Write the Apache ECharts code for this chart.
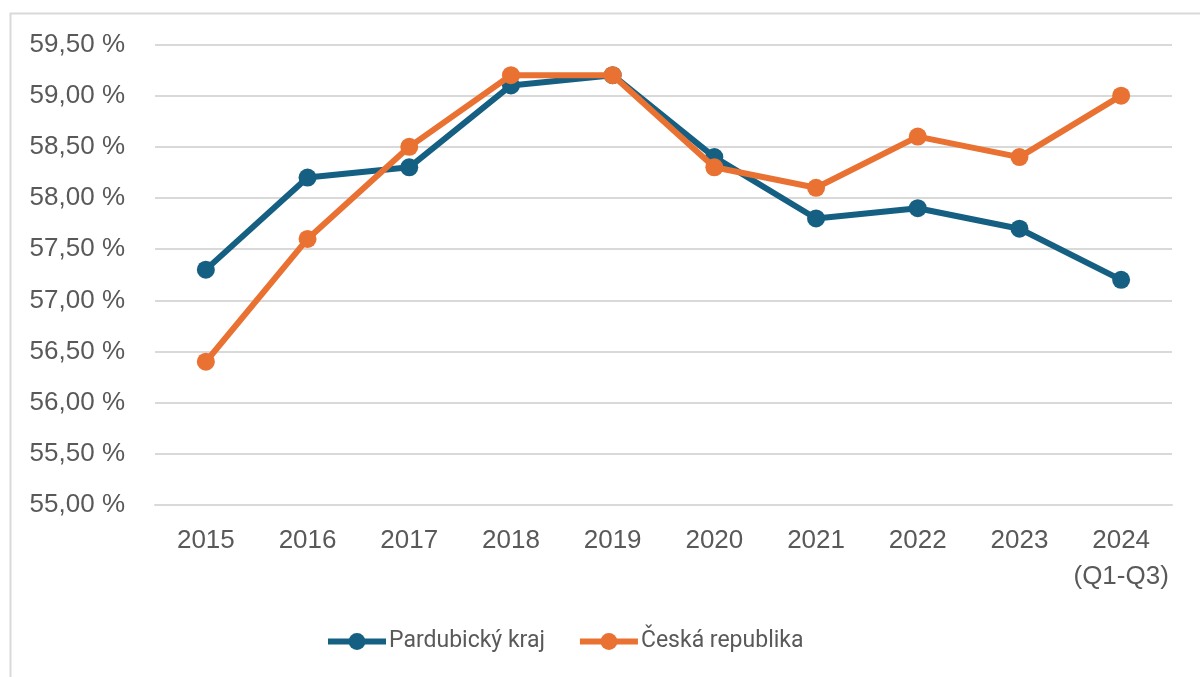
<!DOCTYPE html>
<html>
<head>
<meta charset="utf-8">
<script src="https://cdn.jsdelivr.net/npm/echarts@6/dist/echarts.min.js"></script>
<style>
html,body{margin:0;padding:0;background:#fff;}
#chart{width:1200px;height:677px;}
</style>
</head>
<body>
<div id="chart"></div>
<script>
const categories = ['2015','2016','2017','2018','2019','2020','2021','2022','2023','2024\n(Q1-Q3)'];
const pardubickyKraj = [57.3, 58.2, 58.3, 59.1, 59.2, 58.4, 57.8, 57.9, 57.7, 57.2];
const ceskaRepublika = [56.4, 57.6, 58.5, 59.2, 59.2, 58.3, 58.1, 58.6, 58.4, 59.0];
const seriesNames = ['Pardubický kraj', 'Česká republika'];
const yMin = 55, yMax = 59.5, yStep = 0.5;

const chart = echarts.init(document.getElementById('chart'), null, {renderer:'canvas'});
const txt = '#595959';
chart.setOption({
  animation:false,
  graphic:[{type:'rect', left:8, top:11, shape:{width:1400, height:900}, style:{fill:'none', stroke:'#d9d9d9', lineWidth:2}, silent:true, z:-1}],
  grid:{left:155, right:28, top:44.5, bottom:172, containLabel:false},
  legend:{
    left:325, top:630, padding:0, itemWidth:58, itemHeight:21, itemGap:32,
    lineStyle:{width:6},
    textStyle:{color:txt, fontSize:23, fontFamily:'Roboto', padding:[0,0,0,-2]},
    data:seriesNames
  },
  xAxis:{
    type:'category', data:categories, boundaryGap:true,
    axisLine:{show:true, lineStyle:{color:'#d9d9d9', width:2}},
    axisTick:{show:false},
    axisLabel:{color:txt, fontSize:26, fontFamily:'Liberation Sans', margin:18, lineHeight:36, interval:0}
  },
  yAxis:{
    type:'value', min:yMin, max:yMax, interval:yStep,
    axisLine:{show:false}, axisTick:{show:false},
    splitLine:{lineStyle:{color:'#d9d9d9', width:2}},
    axisLabel:{color:txt, fontSize:26, fontFamily:'Liberation Sans', margin:30,
      formatter:v => v.toFixed(2).replace('.', ',') + ' %'}
  },
  series:[
    {name:seriesNames[0], type:'line', data:pardubickyKraj, symbol:'circle', symbolSize:18,
     lineStyle:{width:6, color:'#156082'}, itemStyle:{color:'#156082'}, z:2},
    {name:seriesNames[1], type:'line', data:ceskaRepublika, symbol:'circle', symbolSize:18,
     lineStyle:{width:6, color:'#E97132'}, itemStyle:{color:'#E97132'}, z:3}
  ]
});
</script>
</body>
</html>
